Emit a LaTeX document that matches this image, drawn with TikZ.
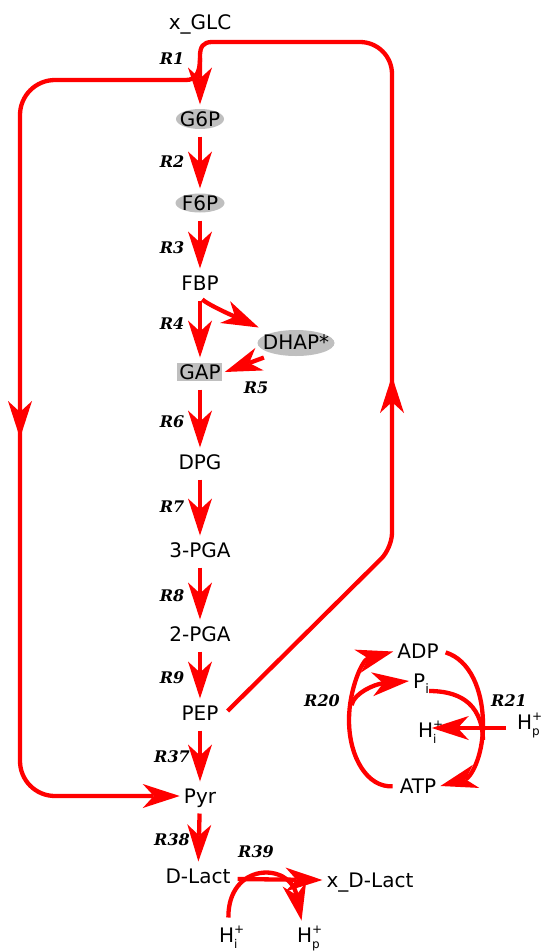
\documentclass[tikz,border=0pt]{standalone}
\usepackage{fontspec}
\setmainfont{DejaVu Sans}
\newfontfamily\rxnfont{DejaVu Serif}
\usetikzlibrary{arrows.meta}
\newcommand\Hion[1]{H\rlap{\raisebox{9pt}{\fontsize{12}{12}\selectfont +}}\raisebox{-6pt}{\fontsize{12}{12}\selectfont #1}}
\newcommand\Psub{P\raisebox{-5pt}{\fontsize{13}{13}\selectfont i}}
\begin{document}
\begin{tikzpicture}[x=1pt,y=-1pt,
  met/.style={font=\fontsize{20}{24}\selectfont, text height=14.6pt, text depth=0pt, inner xsep=4pt, inner ysep=7pt},
  rxn/.style={font=\rxnfont\bfseries\itshape\fontsize{16}{18}\selectfont, inner sep=0pt},
  line/.style={draw=red, line width=4.3pt},
  tipline/.style={line, -{Stealth[length=37pt,width=24pt,inset=11pt,line width=0pt]}},
  conn/.style={tipline, shorten <=3pt},
  blob/.style={fill=black!25, draw=none}]
\useasboundingbox (0,0) rectangle (542,951);

% grey backgrounds
\fill[blob] (200,119) ellipse [x radius=24pt, y radius=10pt];
\fill[blob] (200,203) ellipse [x radius=24.5pt, y radius=9.5pt];
\fill[blob] (296,343) ellipse [x radius=38.5pt, y radius=13pt];
\fill[blob] (177,363) rectangle (222,381);

% metabolites
\node[met] (xglc) at (200,22) {x\_GLC};
\node[met] (g6p) at (200,119) {G6P};
\node[met] (f6p) at (200,203) {F6P};
\node[met] (fbp) at (200,283) {FBP};
\node[met] (dhap) at (296,342) {DHAP*};
\node[met] (gap) at (200,372) {GAP};
\node[met] (dpg) at (200,462) {DPG};
\node[met] (pgaA) at (200,550) {3-PGA};
\node[met] (pgaB) at (200,634) {2-PGA};
\node[met] (pep) at (200,713) {PEP};
\node[met] (pyr) at (200,796) {Pyr};
\node[met] (dlact) at (198,876) {D-Lact};
\node[met] (xdlact) at (370,880) {x\_D-Lact};
\node[met] (adp) at (418,651.5) {ADP};
\node[met, anchor=west] (pi) at (409,681) {\Psub};
\node[met, anchor=west] (hiA) at (414,730) {\Hion{i}};
\node[met] (atp) at (418,786) {ATP};
\node[met, anchor=west] (hpA) at (513,722) {\Hion{p}};
\node[met, anchor=west] (hiB) at (215,935) {\Hion{i}};
\node[met, anchor=west] (hpB) at (293,935) {\Hion{p}};

% reaction labels
\node[rxn] (rA) at (172,59) {R1};
\node[rxn] (rB) at (172,162) {R2};
\node[rxn] (rC) at (172,248) {R3};
\node[rxn] (rD) at (172,324) {R4};
\node[rxn] (rE) at (256,388) {R5};
\node[rxn] (rF) at (172,422) {R6};
\node[rxn] (rG) at (172,507) {R7};
\node[rxn] (rH) at (172,596) {R8};
\node[rxn] (rI) at (172,678) {R9};
\node[rxn] (rJ) at (172,757) {R37};
\node[rxn] (rK) at (172,840) {R38};
\node[rxn] (rL) at (256,852) {R39};
\node[rxn] (rM) at (322,701) {R20};
\node[rxn] (rN) at (509,701) {R21};

% main chain
\draw[conn] (g6p) -- (f6p);
\draw[conn] (f6p) -- (fbp);
\draw[conn] (fbp) -- (gap);
\draw[conn] (fbp.south) .. controls (210,306) and (238,318) .. (dhap.north west);
\draw[conn] ([xshift=8pt]dhap.south west) -- (gap.east);
\draw[conn] (gap) -- (dpg);
\draw[conn] (dpg) -- (pgaA);
\draw[conn] (pgaA) -- (pgaB);
\draw[conn] (pgaB) -- (pep);
\draw[conn] (pep) -- (pyr);
\draw[conn] (pyr) -- (dlact);

% PTS loop (PEP -> G6P)
\coordinate (cR) at (392,548);
\coordinate (tR) at (392,376);
\coordinate (cTR) at (392,42);
\coordinate (cT) at (212,42);
\draw[tipline, rounded corners=15pt] ([shift={(5pt,2pt)}]pep.east) -- (cR) -- (tR);
\draw[line, rounded corners=32pt] (392,390) -- (cTR) -- (cT);
\draw[tipline] (cT) .. controls (203,42) and (200,47) .. (200,56) -- (g6p.north);

% left branch (-> Pyr)
\coordinate (jL) at (200,58);
\coordinate (hL) at (186,80);
\coordinate (cTL) at (20,80);
\coordinate (mL) at (20,438);
\coordinate (cBL) at (20,796);
\draw[line] (jL) .. controls (200,72) and (196,80) .. (hL);
\draw[tipline, rounded corners=35pt] (hL) -- (cTL) -- (mL);
\draw[tipline, rounded corners=35pt] (20,420) -- (cBL) -- (pyr.west);

% lactate export
\draw[conn] ([yshift=-3pt]dlact.east) -- (xdlact.west);
\draw[conn] (hiB.north) .. controls (228,862) and (290,862) .. ([xshift=-7pt]hpB.north);

% ATP cycle
\draw[conn] (atp.west) .. controls (368,788) and (349,758) .. (349,720) .. controls (349,690) and (362,660) .. (adp.west);
\draw[conn] (351,708) .. controls (354,693) and (375,684) .. (pi.west);
\draw[conn] (adp.east) .. controls (470,660) and (483,690) .. (483,725) .. controls (483,758) and (470,778) .. (atp.east);
\draw[line] ([shift={(-4pt,-10pt)}]pi.east) .. controls (455,691) and (482,700) .. (483,740);
\draw[conn] ([shift={(-4pt,-6pt)}]hpA.west) -- ([shift={(-9pt,2pt)}]hiA.east);
\end{tikzpicture}
\end{document}
